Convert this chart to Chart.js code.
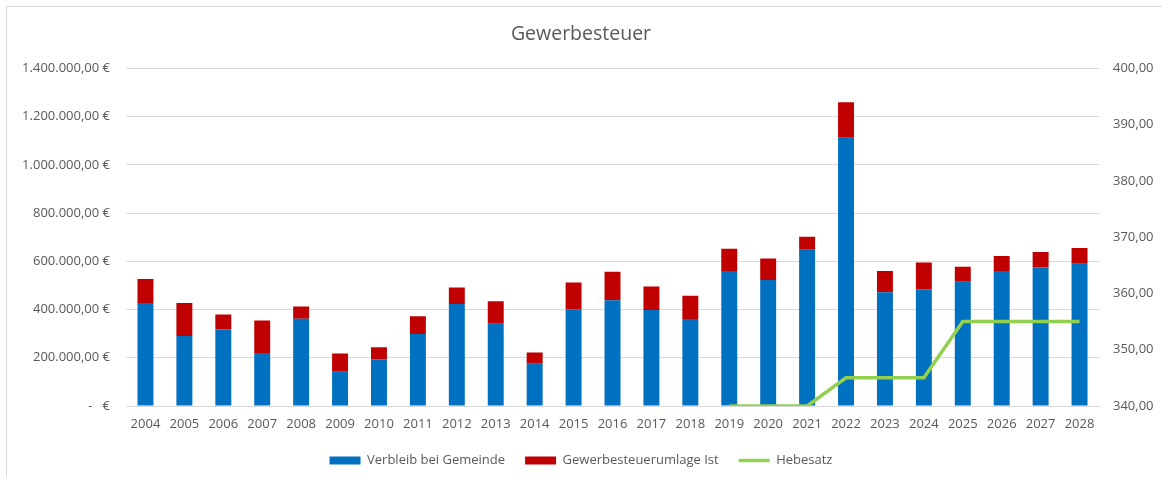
<!DOCTYPE html>
<html lang="de">
  <head>
    <meta charset="UTF-8" />
    <title>Gewerbesteuer</title>
    <script src="https://cdn.jsdelivr.net/npm/chart.js"></script>
    <style>
      * {
        margin: 0;
        padding: 0;
        box-sizing: border-box;
      }

      body {
        background: #ffffff;
        width: 1162px;
        height: 477px;
        overflow: hidden;
        position: relative;
      }

      .frame {
        position: absolute;
        left: 6px;
        top: 6px;
        width: 1200px;
        height: 520px;
        border-top: 1px solid #d9d9d9;
        border-left: 1px solid #d9d9d9;
      }

      #chartContainer {
        position: absolute;
        left: 0;
        top: 0;
        width: 1162px;
        height: 477px;
      }
    </style>
  </head>
  <body>
    <div class="frame"></div>
    <div id="chartContainer">
      <canvas id="steuerChart"></canvas>
    </div>
    <script>
      // Jahre
      const years = [
        "2004", "2005", "2006", "2007", "2008", "2009", "2010", "2011", "2012",
        "2013", "2014", "2015", "2016", "2017", "2018", "2019", "2020", "2021",
        "2022", "2023", "2024", "2025", "2026", "2027", "2028"
      ];

      // Verbleib bei Gemeinde (EUR)
      const verbleib = [
        427000, 290000, 317000, 220000, 362000, 142000, 194000, 299000, 423000,
        341000, 175000, 401000, 439000, 398000, 361000, 560000, 522000, 648000,
        1112000, 472000, 484000, 515000, 560000, 574000, 590000
      ];

      // Gewerbesteuerumlage Ist (EUR)
      const umlage = [
        100000, 137000, 62000, 135000, 51000, 76000, 50000, 73000, 68000,
        93000, 47000, 111000, 118000, 98000, 96000, 92000, 90000, 54000,
        148000, 88000, 111000, 62000, 62000, 65000, 65000
      ];

      // Hebesatz (rechte Achse)
      const hebesatz = [
        null, null, null, null, null, null, null, null, null,
        null, null, null, null, null, null, 340, 340, 340,
        345, 345, 345, 355, 355, 355, 355
      ];

      const fontFamily = "'Open Sans', 'Liberation Sans', sans-serif";
      const textColor = "#595959";
      const gridColor = "#d9d9d9";

      function formatEuro(value) {
        if (value === 0) return "-   €";
        const parts = Math.round(value).toString().replace(/\B(?=(\d{3})+(?!\d))/g, ".");
        return parts + ",00 €";
      }

      const ctx = document.getElementById("steuerChart").getContext("2d");

      const steuerChart = new Chart(ctx, {
        type: "bar",
        data: {
          labels: years,
          datasets: [
            {
              label: "Verbleib bei Gemeinde",
              data: verbleib,
              backgroundColor: "#0070c0",
              borderWidth: 0,
              pointStyle: "rect",
              yAxisID: "y",
              barPercentage: 0.41,
              categoryPercentage: 1,
            },
            {
              label: "Gewerbesteuerumlage Ist",
              data: umlage,
              backgroundColor: "#c00000",
              borderWidth: 0,
              pointStyle: "rect",
              yAxisID: "y",
              barPercentage: 0.41,
              categoryPercentage: 1,
            },
            {
              type: "line",
              label: "Hebesatz",
              data: hebesatz,
              borderColor: "#92d050",
              backgroundColor: "#92d050",
              borderWidth: 3.5,
              pointRadius: 0,
              pointStyle: "line",
              fill: false,
              tension: 0,
              yAxisID: "y1",
              order: -1,
            },
          ],
        },
        options: {
          responsive: true,
          maintainAspectRatio: false,
          animation: false,
          layout: {
            padding: { top: 13, bottom: 0, left: 0, right: 0 },
          },
          plugins: {
            title: {
              display: true,
              text: "Gewerbesteuer",
              color: textColor,
              font: { family: fontFamily, size: 19.5, weight: "normal" },
              padding: { top: 10, bottom: 22 },
            },
            legend: {
              position: "bottom",
              labels: {
                color: textColor,
                font: { family: fontFamily, size: 13 },
                usePointStyle: true,
                pointStyleWidth: 31,
                boxWidth: 31,
                boxHeight: 8,
                padding: 20,
                sort: (a, b) => a.datasetIndex - b.datasetIndex,
              },
            },
            tooltip: { enabled: false },
          },
          scales: {
            x: {
              stacked: true,
              grid: { display: false, drawTicks: false },
              border: { display: true, color: gridColor },
              ticks: {
                color: textColor,
                font: { family: fontFamily, size: 13 },
                padding: 10,
                maxRotation: 0,
                autoSkip: false,
              },
              afterFit: (scale) => {
                scale.height = 28;
              },
            },
            y: {
              stacked: true,
              position: "left",
              min: 0,
              max: 1400000,
              grid: { color: gridColor, drawTicks: false },
              border: { display: false },
              ticks: {
                stepSize: 200000,
                color: textColor,
                font: { family: fontFamily, size: 13 },
                padding: 16,
                callback: (v) => formatEuro(v),
              },
              afterFit: (scale) => {
                scale.width = 126;
              },
            },
            y1: {
              position: "right",
              min: 340,
              max: 400,
              grid: { display: false, drawTicks: false },
              border: { display: false },
              ticks: {
                stepSize: 10,
                color: textColor,
                font: { family: fontFamily, size: 13 },
                padding: 14,
                callback: (v) => v.toFixed(2).replace(".", ","),
              },
              afterFit: (scale) => {
                scale.width = 63;
              },
            },
          },
        },
      });
    </script>
  </body>
</html>
